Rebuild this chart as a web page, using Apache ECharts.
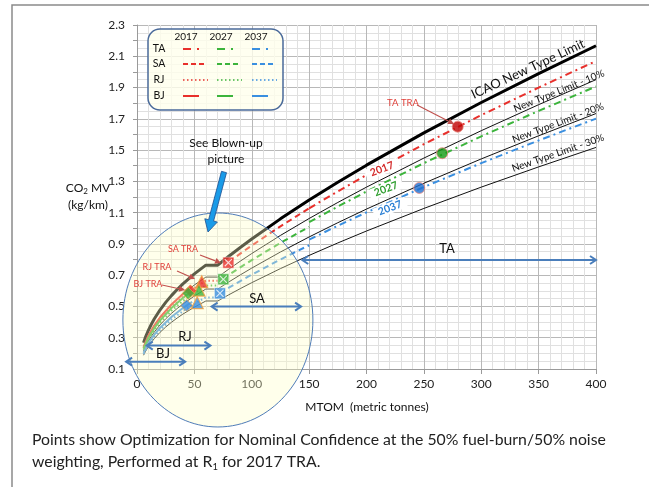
<!DOCTYPE html>
<html>
<head>
<meta charset="utf-8">
<script src="https://cdn.jsdelivr.net/npm/echarts@6/dist/echarts.min.js"></script>
<style>
  html, body { margin: 0; padding: 0; background: #fff; }
  #chart { width: 649px; height: 487px; }
</style>
</head>
<body>
<div id="chart"></div>
<script>
// ---- CO2 metric value limit (kg/km) against MTOM (tonnes) ----
const mtom        = [5.7, 7.5, 10, 12.5, 15, 20, 25, 30, 35, 40, 50, 60, 70.4, 80, 90, 100, 125, 150, 175, 200, 250, 300, 350, 400];
const icaoLimit   = [0.2686, 0.3056, 0.3490, 0.3864, 0.4196, 0.4771, 0.5261, 0.5694, 0.6086, 0.6444, 0.7082, 0.7642, 0.7642, 0.8208, 0.8773, 0.9316, 1.0602, 1.1806, 1.2945, 1.4035, 1.6099, 1.8045, 1.9893, 2.1672];
const limitLess10 = [0.2417, 0.2750, 0.3141, 0.3478, 0.3776, 0.4294, 0.4735, 0.5125, 0.5477, 0.5800, 0.6374, 0.6878, 0.6878, 0.7387, 0.7896, 0.8384, 0.9542, 1.0625, 1.1651, 1.2632, 1.4489, 1.6241, 1.7904, 1.9505];
const limitLess20 = [0.2149, 0.2445, 0.2792, 0.3091, 0.3357, 0.3817, 0.4209, 0.4555, 0.4869, 0.5155, 0.5666, 0.6114, 0.6114, 0.6566, 0.7018, 0.7453, 0.8482, 0.9445, 1.0356, 1.1228, 1.2879, 1.4436, 1.5914, 1.7338];
const limitLess30 = [0.1880, 0.2139, 0.2443, 0.2705, 0.2937, 0.3340, 0.3683, 0.3986, 0.4260, 0.4511, 0.4957, 0.5349, 0.5349, 0.5746, 0.6141, 0.6521, 0.7421, 0.8264, 0.9062, 0.9825, 1.1269, 1.2632, 1.3925, 1.5170];

// ---- Technology goal lines per category (2017 / 2027 / 2037) ----
const taX     = [150, 175, 200, 250, 300, 350, 400];
const ta2017  = [1.1275, 1.2362, 1.3403, 1.5375, 1.7233, 1.8998, 2.0697];
const ta2027  = [1.0389, 1.1392, 1.2351, 1.4167, 1.5880, 1.7506, 1.9071];
const ta2037  = [0.9268, 1.0162, 1.1017, 1.2638, 1.4165, 1.5616, 1.7013];

const saX2017 = [80, 90, 100, 125, 150];
const sa2017  = [0.7839, 0.8378, 0.8897, 1.0125, 1.1275];
const saX2027 = [75, 80, 90, 100, 125, 150];
const sa2027  = [0.6776, 0.7018, 0.7501, 0.7965, 0.9065, 1.0094];
const saX2037 = [72, 80, 90, 100, 125, 150];
const sa2037  = [0.5838, 0.6197, 0.6624, 0.7034, 0.8005, 0.8914];

const rjX     = [5.7, 10, 15, 20, 30, 40, 50, 60, 70.4];
const rj2017  = [0.2337, 0.3036, 0.3651, 0.4151, 0.4954, 0.5606, 0.6161, 0.6649, 0.6649];
const rj2027  = [0.2229, 0.2897, 0.3483, 0.3960, 0.4726, 0.5349, 0.5878, 0.6343, 0.6343];
const rj2037  = [0.1961, 0.2548, 0.3063, 0.3483, 0.4157, 0.4704, 0.5170, 0.5579, 0.5579];

const bjX     = [5.7, 10, 15, 20, 30, 40, 48];
const bj2017  = [0.2417, 0.3141, 0.3776, 0.4294, 0.5125, 0.5800, 0.6265];
const bj2027  = [0.2310, 0.3001, 0.3609, 0.4103, 0.4897, 0.5542, 0.5986];
const bj2037  = [0.2041, 0.2652, 0.3189, 0.3626, 0.4327, 0.4897, 0.5290];

// ---- Optimised TRA points (2017, 2027, 2037) ----
const taTraX = [279.5, 266, 246];
const taTraY = [1.650, 1.480, 1.258];
const saTraX = [79.6, 75.2, 72.3];
const saTraY = [0.780, 0.674, 0.584];
const rjTraX = [56.4, 54.0, 52.5];
const rjTraY = [0.658, 0.605, 0.524];
const bjTraX = [46.5, 44.7, 43.3];
const bjTraY = [0.600, 0.584, 0.506];

// ---- Category ranges (MTOM) for the double arrows ----
const rangeNames = ['TA', 'SA', 'RJ', 'BJ'];
const rangeFrom  = [144, 65, 8.5, -9.5];
const rangeTo    = [400, 143, 64, 42];
const rangeAt    = [0.797, 0.499, 0.250, 0.147];

const yearNames = ['2017', '2027', '2037'];

const FONT = 'Lato';
const RED = '#e8302c', GREEN = '#3cb43c', BLUE = '#3a8fe0';
const yearColors = [RED, GREEN, BLUE];
const dotColors = ['#c00000', '#129a12', '#1f6fd0'];
const DASH_TA = [7, 4, 2, 4];
const DASH_SA = [6, 4];
const DASH_RJ = [1.5, 2.5];

const pairs = (xs, ys) => xs.map((x, i) => [x, ys[i]]);

function line(name, xs, ys, color, width, dash) {
  return {
    type: 'line', name, data: pairs(xs, ys), symbol: 'none', silent: true,
    animation: false, z: 2,
    lineStyle: { color, width, type: dash || 'solid', cap: 'butt' }
  };
}
function points(name, xs, ys, symbol, size, colors, border, borderWidth, z) {
  return {
    type: 'scatter', name, symbol, symbolSize: size, silent: true, animation: false, z: z || 10,
    data: pairs(xs, ys).map((p, i) => ({
      value: p,
      itemStyle: { color: colors[i], borderColor: border, borderWidth: borderWidth }
    }))
  };
}

const series = [
  line('ICAO New Type Limit', mtom, icaoLimit, '#000', 3),
  line('New Type Limit - 10%', mtom, limitLess10, '#111', 1),
  line('New Type Limit - 20%', mtom, limitLess20, '#111', 1),
  line('New Type Limit - 30%', mtom, limitLess30, '#111', 1),
  line('TA 2017', taX, ta2017, RED, 2, DASH_TA),
  line('TA 2027', taX, ta2027, GREEN, 2, DASH_TA),
  line('TA 2037', taX, ta2037, BLUE, 2, DASH_TA),
  line('SA 2017', saX2017, sa2017, RED, 2, DASH_SA),
  line('SA 2027', saX2027, sa2027, GREEN, 2, DASH_SA),
  line('SA 2037', saX2037, sa2037, BLUE, 2, DASH_SA),
  line('RJ 2017', rjX, rj2017, RED, 2, DASH_RJ),
  line('RJ 2027', rjX, rj2027, GREEN, 2, DASH_RJ),
  line('RJ 2037', rjX, rj2037, BLUE, 2, DASH_RJ),
  line('BJ 2017', bjX, bj2017, RED, 2),
  line('BJ 2027', bjX, bj2027, GREEN, 2),
  line('BJ 2037', bjX, bj2037, BLUE, 2),
  points('TA TRA', taTraX, taTraY, 'circle', 11, dotColors, '#e88a80', 1),
  points('SA TRA', saTraX, saTraY, 'rect', 11, [RED, GREEN, BLUE], '#ffffff', 0.5),
  points('SA TRA mark', saTraX, saTraY, 'path://M1,0 L5,4 L9,0 L10,1 L6,5 L10,9 L9,10 L5,6 L1,10 L0,9 L4,5 L0,1 Z', 8, ['#fff', '#fff', '#fff'], 'none', 0, 11),
  points('RJ TRA', rjTraX, rjTraY, 'triangle', 12, [RED, GREEN, BLUE], '#f0a040', 1.2),
  points('BJ TRA', bjTraX, bjTraY, 'diamond', 12, [RED, GREEN, BLUE], '#f0a040', 0.8)
];

const chart = echarts.init(document.getElementById('chart'));
chart.setOption({
  animation: false,
  backgroundColor: '#fff',
  grid: { left: 137, right: 53, top: 25, bottom: 118, containLabel: false },
  xAxis: {
    type: 'value', min: 0, max: 400, interval: 50,
    axisLine: { show: true, lineStyle: { color: '#9a9a9a' } },
    axisTick: { show: true, length: 5, lineStyle: { color: '#9a9a9a' } },
    axisLabel: { color: '#222', fontSize: 12, fontFamily: FONT, margin: 9 },
    splitLine: { show: true, lineStyle: { color: '#b8b8b8', width: 1 } },
    minorTick: { show: false, splitNumber: 5 },
    minorSplitLine: { show: true, lineStyle: { color: '#e0e0e0', width: 1 } }
  },
  yAxis: {
    type: 'value', min: 0.1, max: 2.3, interval: 0.1,
    axisLine: { show: true, lineStyle: { color: '#9a9a9a' } },
    axisTick: { show: true, length: 4, lineStyle: { color: '#9a9a9a' } },
    axisLabel: {
      color: '#222', fontSize: 12, fontFamily: FONT, margin: 12,
      showMinLabel: true, showMaxLabel: true,
      formatter: v => (Math.round(v * 10) % 2 === 1 ? v.toFixed(1) : '')
    },
    splitLine: { show: true, lineStyle: { color: ['#b8b8b8', '#e0e0e0'], width: 1 } },
    minorTick: { show: false, splitNumber: 2 },
    minorSplitLine: { show: true, lineStyle: { color: '#e0e0e0', width: 1 } }
  },
  series
});

// ---- annotations ----
const px = (x, y) => chart.convertToPixel({ gridIndex: 0 }, [x, y]);
const g = [];
const deg = d => d * Math.PI / 180;

function text(x, y, str, opts) {
  const o = opts || {};
  g.push({
    type: 'text', x, y, rotation: o.rotation || 0, z: o.z || 20, silent: true,
    style: Object.assign({
      text: str, fill: o.color || '#111', fontSize: o.size || 12, fontFamily: FONT,
      fontWeight: o.weight || 'normal', align: o.align || 'center', verticalAlign: 'middle'
    }, o.style || {})
  });
}
function seg(x1, y1, x2, y2, color, width, dash, z) {
  g.push({
    type: 'line', silent: true, z: z || 20,
    shape: { x1, y1, x2, y2 },
    style: { stroke: color, lineWidth: width, lineDash: dash || null }
  });
}
function pointer(x1, y1, x2, y2, color) {
  const a = Math.atan2(y2 - y1, x2 - x1), L = 6, W = 3;
  const bx = x2 - L * Math.cos(a), by = y2 - L * Math.sin(a);
  seg(x1, y1, bx, by, color, 1.1);
  g.push({
    type: 'polygon', silent: true, z: 20,
    shape: { points: [[x2, y2], [bx + W * Math.sin(a), by - W * Math.cos(a)], [bx - W * Math.sin(a), by + W * Math.cos(a)]] },
    style: { fill: color }
  });
}
function chevron(x, y, dir, color) {
  g.push({
    type: 'polyline', silent: true, z: 20,
    shape: { points: [[x - dir * 6, y - 4], [x, y], [x - dir * 6, y + 4]] },
    style: { stroke: color, lineWidth: 2, fill: null }
  });
}

// outer frame
g.push({ type: 'polyline', silent: true, z: 1, shape: { points: [[12, 487], [12, 5], [649, 5]] },
         style: { stroke: '#8a8a8a', lineWidth: 1.5, fill: null } });

// blown-up region
const c = px(70.5, 0.4135);
g.push({ type: 'ellipse', silent: true, z: 3, shape: { cx: c[0], cy: c[1], rx: 95, ry: 107 },
         style: { fill: 'rgba(255,255,200,0.36)', stroke: '#4f7cb8', lineWidth: 1 } });

// y axis title
g.push({ type: 'text', x: 88, y: 188, z: 20, silent: true,
  style: { text: '{n|CO}{s|2}{n| MV}', align: 'center', verticalAlign: 'middle',
    rich: { n: { fontSize: 12, fontFamily: FONT, fill: '#111', lineHeight: 14, verticalAlign: 'middle' },
            s: { fontSize: 8, fontFamily: FONT, fill: '#111', lineHeight: 10, verticalAlign: 'bottom' } } } });
text(88, 205, '(kg/km)', { size: 12 });

// x axis title
text(367, 407, 'MTOM  (metric tonnes)', { size: 12 });

// legend box
g.push({ type: 'rect', silent: true, z: 15, shape: { x: 148, y: 29, width: 135, height: 81, r: 12 },
         style: { fill: 'rgba(255,255,236,0.8)', stroke: '#4a6a9a', lineWidth: 1.5 } });
const colX = [183, 217, 252];
const headX = [186, 221, 256];
const rowY = [49, 64, 80, 96];
yearNames.forEach((yr, i) => text(headX[i], 37, yr, { size: 10 }));
rangeNames.forEach((nm, r) => text(159, rowY[r], nm, { size: 10.5 }));
yearColors.forEach((col, i) => {
  const x0 = colX[i];
  seg(x0, rowY[0], x0 + 8, rowY[0], col, 2);
  seg(x0 + 14, rowY[0], x0 + 16, rowY[0], col, 2);
  seg(x0, rowY[1], x0 + 23, rowY[1], col, 2, [5, 3]);
  seg(x0, rowY[2], x0 + 25, rowY[2], col, 1.6, [1.5, 2.5]);
  seg(x0, rowY[3], x0 + 16, rowY[3], col, 2);
});

// limit line captions
text(528, 69, 'ICAO New Type Limit', { size: 13, rotation: deg(25) });
text(559, 91, 'New Type Limit - 10%', { size: 10, rotation: deg(22) });
text(558, 123, 'New Type Limit - 20%', { size: 10, rotation: deg(20.5) });
text(558, 153, 'New Type Limit - 30%', { size: 10, rotation: deg(19) });

// year tags on TA goal lines
const tagPos = [[382, 169], [386, 189], [390, 208]];
const tagColors = ['#d42a2a', '#2f9e2f', '#2a7fd4'];
yearNames.forEach((yr, i) => text(tagPos[i][0], tagPos[i][1], yr, {
  size: 10.5, weight: 'bold', color: tagColors[i],
  rotation: deg(21), style: { backgroundColor: '#fff', padding: [0, 5, 0, 5] }
}));

// TRA labels
const traRed = '#e0403a', traArrow = '#c0504d';
text(403, 103, 'TA TRA', { size: 9.5, color: traRed });
pointer(417, 105, 454, 124, traArrow);
text(183, 249, 'SA TRA', { size: 9, color: traRed });
pointer(200, 255, 221, 263, traArrow);
text(157, 267, 'RJ TRA', { size: 9, color: traRed });
pointer(177, 271, 195, 279, traArrow);
text(148, 284, 'BJ TRA', { size: 9, color: traRed });
pointer(162, 285, 185, 290, traArrow);

// blown-up pointer
text(226, 143, 'See Blown-up', { size: 12 });
text(226, 159, 'picture', { size: 12 });
(function () {
  const x1 = 224, y1 = 172, x2 = 208, y2 = 232;
  const a = Math.atan2(y2 - y1, x2 - x1), ux = Math.cos(a), uy = Math.sin(a);
  const nx = -uy, ny = ux, w = 2.6, hw = 6.5, hl = 12;
  const bx = x2 - ux * hl, by = y2 - uy * hl;
  g.push({ type: 'polygon', silent: true, z: 20, shape: { points: [
    [x1 + nx * w, y1 + ny * w], [bx + nx * w, by + ny * w], [bx + nx * hw, by + ny * hw], [x2, y2],
    [bx - nx * hw, by - ny * hw], [bx - nx * w, by - ny * w], [x1 - nx * w, y1 - ny * w]] },
    style: { fill: '#1a9be8', stroke: '#1d4f8f', lineWidth: 0.8 } });
})();

// category range arrows
const rangeBlue = '#4a7ebb';
const rangeLabelDy = [-11, -8, -9, -8];
const rangeLabelX = [447, 257, 185, 163];
rangeNames.forEach((nm, i) => {
  const a = px(rangeFrom[i], rangeAt[i]);
  const b = px(rangeTo[i], rangeAt[i]);
  seg(a[0] + 1, a[1], b[0] - 1, b[1], rangeBlue, 2);
  chevron(a[0], a[1], -1, rangeBlue);
  chevron(b[0], b[1], 1, rangeBlue);
  text(rangeLabelX[i], a[1] + rangeLabelDy[i], nm, { size: 13 });
});

// caption
text(32, 440, 'Points show Optimization for Nominal Confidence at the 50% fuel-burn/50% noise', { size: 15.8, align: 'left', color: '#222' });
g.push({ type: 'text', x: 32, y: 462, z: 20, silent: true,
  style: { text: '{n|weighting, Performed at R}{s|1}{n| for 2017 TRA.}', align: 'left', verticalAlign: 'middle',
    rich: { n: { fontSize: 15.8, fontFamily: FONT, fill: '#222', lineHeight: 19, verticalAlign: 'middle' },
            s: { fontSize: 9.5, fontFamily: FONT, fill: '#222', lineHeight: 12, verticalAlign: 'bottom' } } } });

chart.setOption({ graphic: { elements: g } });
</script>
</body>
</html>
